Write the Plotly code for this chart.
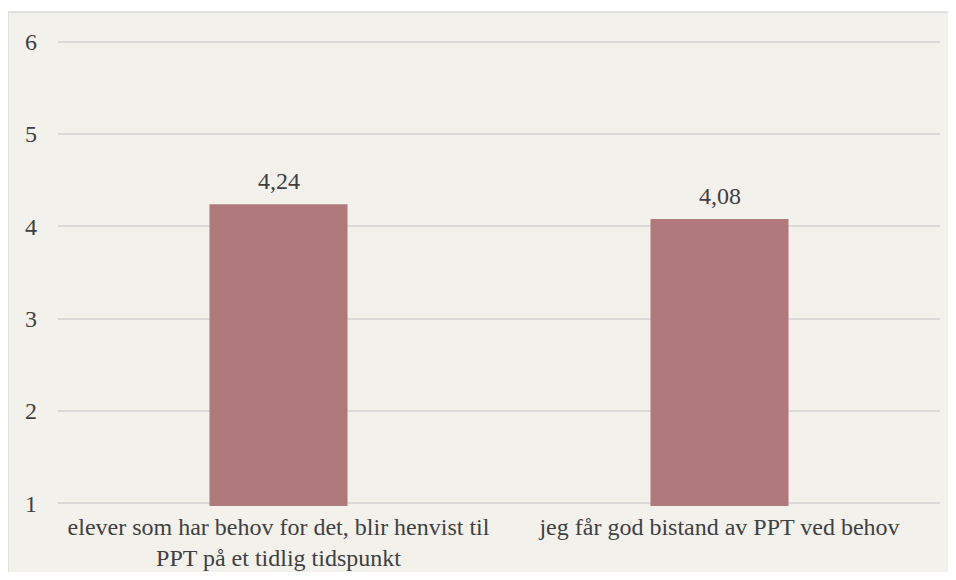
import plotly.graph_objects as go

categories = ["elever som har behov for det, blir henvist til<br>PPT på et tidlig tidspunkt",
              "jeg får god bistand av PPT ved behov"]
values = [4.24, 4.08]
y_ticks = [1, 2, 3, 4, 5, 6]

FONT = "Liberation Serif, Times New Roman, DejaVu Serif, serif"
TXT = "#404040"
W, H = 940, 564
L, R, T, B = 50, 8, 31, 66
pw, ph = W - L - R, H - T - B
y_lo, y_hi = 0.97, 6.03

fig = go.Figure(go.Bar(
    x=categories, y=values,
    marker=dict(color="#b0797c", line=dict(width=0)),
    width=0.313,
))

for c, v in zip(categories, values):
    fig.add_annotation(x=c, y=v, text=f"{v:.2f}".replace(".", ","),
                       showarrow=False, yanchor="middle", yshift=23,
                       font=dict(family=FONT, size=24, color=TXT))

fig.add_shape(type="rect", xref="paper", yref="paper", layer="below",
              x0=(0 - L) / pw, x1=(W + 10 - L) / pw,
              y0=(H - B - (H + 10)) / ph, y1=(H - B - 4) / ph,
              fillcolor="#f2f1ec", line=dict(color="#d9d9d9", width=1.5))

fig.update_layout(
    width=W, height=H,
    margin=dict(l=L, r=R, t=T, b=B, autoexpand=False),
    paper_bgcolor="white", plot_bgcolor="rgba(0,0,0,0)",
    showlegend=False,
    font=dict(family=FONT, size=24, color=TXT),
    xaxis=dict(showgrid=False, showline=False, ticks="", ticklabelstandoff=4,
               automargin=False,
               tickfont=dict(family=FONT, size=24, color=TXT)),
    yaxis=dict(range=[y_lo, y_hi], tickvals=y_ticks, showgrid=True,
               automargin=False,
               gridcolor="#d9d9d9", gridwidth=1.5, zeroline=False,
               showline=False, ticks="", ticklabelstandoff=20,
               tickfont=dict(family=FONT, size=24, color=TXT)),
)

fig.write_html("out.html")
